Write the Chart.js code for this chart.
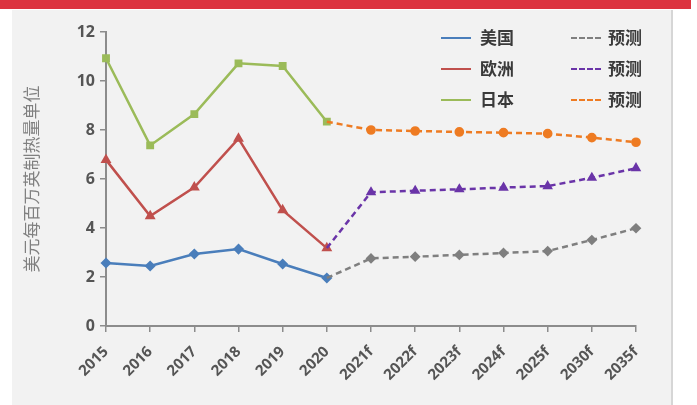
<!DOCTYPE html>
<html><head><meta charset="utf-8">
<script src="https://cdn.jsdelivr.net/npm/chart.js@4/dist/chart.umd.min.js"></script>
<style>
html,body{margin:0;padding:0;width:697px;height:405px;overflow:hidden;background:#fff;}
#frame{position:absolute;left:0;top:0;width:697px;height:405px;}
#redbar{position:absolute;left:0;top:0;width:691px;height:9px;background:#dc3440;}
#panel{position:absolute;left:12px;top:10px;width:659px;height:395px;background:#f2f2f2;border-right:2px solid #d6d6d6;}
#wrap{position:absolute;left:0;top:0;width:697px;height:405px;}
.leg{position:absolute;font-family:"Noto Sans CJK SC",sans-serif;font-size:17px;font-weight:700;color:#3a3a3a;line-height:20px;}
.sw{position:absolute;width:30px;height:0;}
</style></head>
<body>
<div id="frame"><div id="redbar"></div><div id="panel"></div></div>
<div id="wrap"><canvas id="c" width="697" height="405"></canvas></div>
<div id="legend"></div>
<script>
const categories = ['2015','2016','2017','2018','2019','2020','2021f','2022f','2023f','2024f','2025f','2030f','2035f'];
const usHist     = [2.57, 2.45, 2.94, 3.14, 2.53, 1.96, null, null, null, null, null, null, null];
const euHist     = [6.78, 4.49, 5.66, 7.65, 4.73, 3.18, null, null, null, null, null, null, null];
const jpHist     = [10.93, 7.37, 8.65, 10.72, 10.61, 8.34, null, null, null, null, null, null, null];
const usFcst     = [null, null, null, null, null, 1.96, 2.76, 2.83, 2.90, 2.98, 3.06, 3.51, 3.99];
const euFcst     = [null, null, null, null, null, 3.18, 5.46, 5.52, 5.58, 5.65, 5.71, 6.05, 6.44];
const jpFcst     = [null, null, null, null, null, 8.34, 8.00, 7.96, 7.92, 7.89, 7.85, 7.69, 7.50];
const yTicks     = [0, 2, 4, 6, 8, 10, 12];
const seriesNames = ['美国', '欧洲', '日本', '预测', '预测', '预测'];
const yTitle = '美元每百万英制热量单位';

const C = {us:'#4a7ebb', eu:'#c0504d', jp:'#9bbb59', gray:'#7f7f7f', purple:'#6a34a8', orange:'#ee7b22'};

function hist(label, data, color, style){
  return {label, data, borderColor:color, backgroundColor:color, borderWidth:2.5,
    pointStyle:style, pointRadius:3.8, pointHoverRadius:3.8, tension:0, spanGaps:false};
}
function fc(label, data, color, style){
  return {label, data, borderColor:color, backgroundColor:color, borderWidth:2.5, borderDash:[6,4],
    pointStyle:style, pointRadius:(ctx)=>ctx.dataIndex===5?0:3.6, pointHoverRadius:3.6, tension:0};
}

const chart = new Chart(document.getElementById('c'), {
  type:'line',
  data:{labels:categories, datasets:[
    fc(seriesNames[3], usFcst, C.gray, 'rectRot'),
    fc(seriesNames[4], euFcst, C.purple, 'triangle'),
    fc(seriesNames[5], jpFcst, C.orange, 'circle'),
    hist(seriesNames[0], usHist, C.us, 'rectRot'),
    hist(seriesNames[1], euHist, C.eu, 'triangle'),
    hist(seriesNames[2], jpHist, C.jp, 'rect'),
  ]},
  options:{
    responsive:false, animation:false, devicePixelRatio:1,
    layout:{padding:{left:21, right:61, top:32, bottom:0}},
    plugins:{legend:{display:false}, tooltip:{enabled:false}},
    scales:{
      x:{
        offset:false,
        grid:{drawOnChartArea:false, drawTicks:true, tickLength:6, color:'#8c8c8c', lineWidth:1.5},
        border:{display:true, color:'#8c8c8c', width:2},
        ticks:{maxRotation:45, minRotation:45, autoSkip:false, color:'#555', padding:11,
          font:{family:'"Open Sans", sans-serif', size:15, weight:'bold'}},
        afterFit(s){ s.height = 405-326; }
      },
      y:{
        min:0, max:12,
        afterBuildTicks(s){ s.ticks = yTicks.map(v=>({value:v})); },
        grid:{drawOnChartArea:false, drawTicks:true, tickLength:6, color:'#8c8c8c', lineWidth:1.5},
        border:{display:true, color:'#8c8c8c', width:2},
        ticks:{color:'#555', padding:5, font:{family:'"Open Sans", sans-serif', size:16, weight:'bold'}},
        title:{display:true, text:yTitle, color:'#808080', padding:{top:0,bottom:0},
          font:{family:'"Noto Sans CJK SC", sans-serif', size:17}},
        afterFit(s){ s.width = 106-21; }
      }
    }
  }
});

// HTML legend, 2 columns x 3 rows
const legItems = [
  {name:seriesNames[0], color:C.us, dash:false, col:0, row:0},
  {name:seriesNames[1], color:C.eu, dash:false, col:0, row:1},
  {name:seriesNames[2], color:C.jp, dash:false, col:0, row:2},
  {name:seriesNames[3], color:C.gray, dash:true, col:1, row:0},
  {name:seriesNames[4], color:C.purple, dash:true, col:1, row:1},
  {name:seriesNames[5], color:C.orange, dash:true, col:1, row:2},
];
const L = document.getElementById('legend');
legItems.forEach(it=>{
  const x0 = it.col===0 ? 441 : 571;
  const y = 38 + it.row*31;
  const sw = document.createElement('div');
  sw.className='sw';
  sw.style.left = x0+'px'; sw.style.top = (y-1)+'px';
  sw.style.borderTop = '2px '+(it.dash?'dashed ':'solid ')+it.color;
  L.appendChild(sw);
  const t = document.createElement('div');
  t.className='leg'; t.textContent = it.name;
  t.style.left = (x0+ (it.col===0?39:37))+'px'; t.style.top = (y-11)+'px';
  L.appendChild(t);
});
</script>
</body></html>
